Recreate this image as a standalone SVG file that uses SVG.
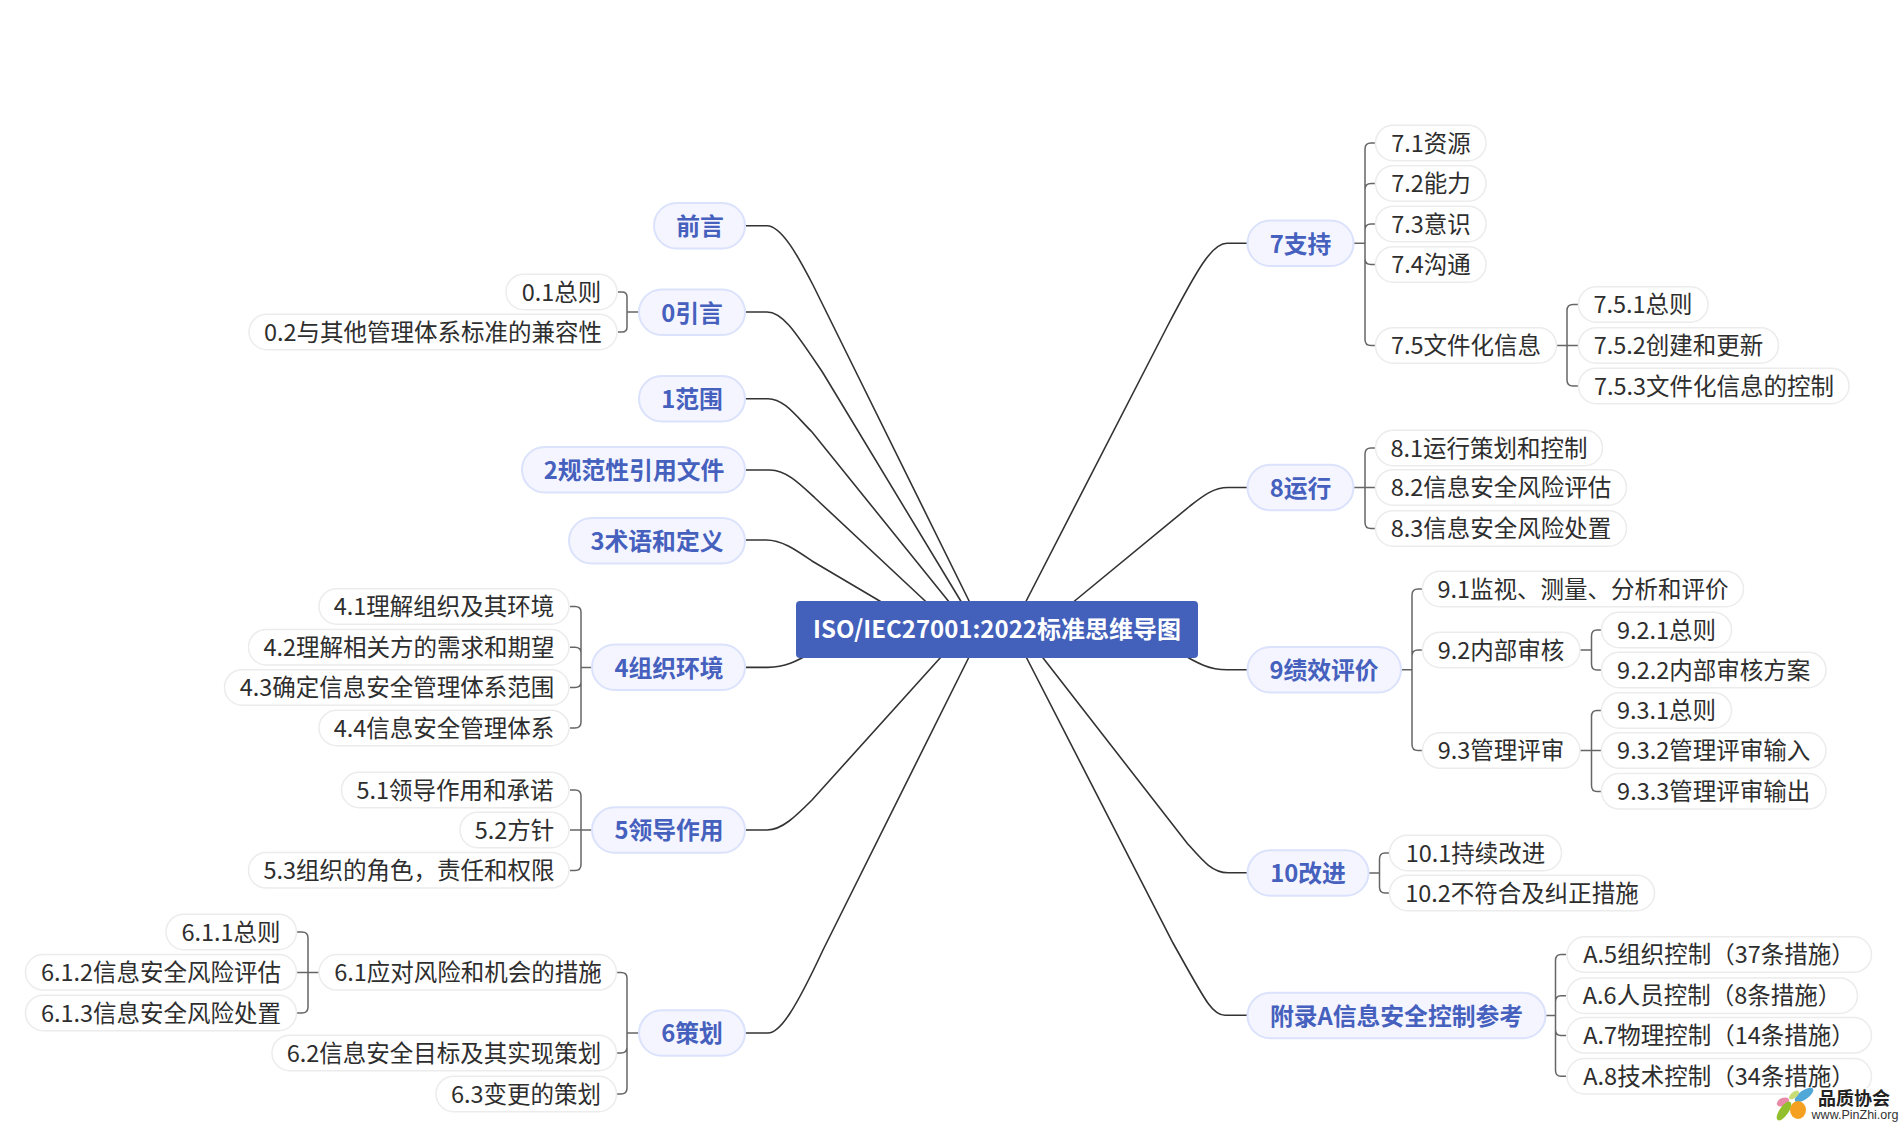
<svg xmlns="http://www.w3.org/2000/svg" width="1901" height="1126" viewBox="0 0 1901 1126">
<style>
text{font-family:"Noto Sans CJK SC","Noto Sans",sans-serif;text-anchor:middle}
.main rect{fill:#f4f5ff;stroke:#dbe2fb;stroke-width:2}
.main text{font-size:23.8px;font-weight:700;fill:#4560bd}
.sub rect{fill:#fff;stroke:#ececec;stroke-width:1.5}
.sub text{font-size:23.5px;fill:#2e2e2e}
.root rect{fill:#4360bb}
.root text{font-size:24px;font-weight:700;fill:#fff}
.trunk{fill:none;stroke:#333;stroke-width:1.6}
.branch{fill:none;stroke:#666;stroke-width:1.5}
</style>
<rect width="1901" height="1126" fill="#fff"/>
<g id="connectors">
<path class="trunk" d="M746 225.700H767C782 226 799 258 813 285L975 613"/>
<path class="trunk" d="M746 312H767C783 312 796 333 823 373L968 613"/>
<path class="trunk" d="M746 398.700H768C784 398.700 796 416 812 432L958 613"/>
<path class="trunk" d="M746 470H770C786 470 800 484 815 498L938 613"/>
<path class="trunk" d="M746 540H766C782 540 796 550 812 561L900 613"/>
<path class="trunk" d="M746 667.400H768C785 667.400 795 662 815 651"/>
<path class="trunk" d="M746 830H767C782 830 796 816 812 800L950 647"/>
<path class="trunk" d="M746 1033H768C780 1033 795 1010 823 950L975 645"/>
<path class="trunk" d="M1247 243.300H1227C1212 243.300 1198 268 1167 327L1020 613"/>
<path class="trunk" d="M1247 487.500H1228C1214 487.500 1204 495 1190 506L1060 613"/>
<path class="trunk" d="M1247 669.800H1227C1210 669.800 1200 665 1175 650"/>
<path class="trunk" d="M1247 872.700H1228C1212 872.700 1202 860 1187 843L1033 645"/>
<path class="trunk" d="M1247 1015.300H1225C1212 1015.300 1205 1000 1173 943L1020 645"/>
<path class="branch" d="M639 312H627M618 292H622Q627 292 627 297V327Q627 332 622 332H618"/>
<path class="branch" d="M592 667.400H581M570 606.500H575Q581 606.500 581 612V722Q581 728 575 728H570M570 647.200H575Q581 647.200 581 653M570 687.500H575Q581 687.500 581 682"/>
<path class="branch" d="M592 830H570M570 790H575Q581 790 581 796V864.400Q581 870.400 575 870.400H570"/>
<path class="branch" d="M639 1033H627M617 972.400H621Q627 972.400 627 978V1088Q627 1094 621 1094H617M617 1053H621Q627 1053 627 1047"/>
<path class="branch" d="M319 972.400H297M297 932H302Q308 932 308 938V1007Q308 1013 302 1013H297"/>
<path class="branch" d="M1354 243.300H1365M1375 143H1371Q1365 143 1365 149V339.500Q1365 345.500 1371 345.500H1375M1375 183.500H1371Q1365 183.500 1365 189.500M1375 224H1371Q1365 224 1365 230M1375 264.500H1371Q1365 264.500 1365 258.500"/>
<path class="branch" d="M1557 345.500H1578M1578 304.500H1573Q1567 304.500 1567 310.500V380Q1567 386 1573 386H1578"/>
<path class="branch" d="M1354 487.500H1375M1375 448H1371Q1365 448 1365 454V522.500Q1365 528.500 1371 528.500H1375"/>
<path class="branch" d="M1401 669.800H1412M1422 589H1418Q1412 589 1412 595V744.600Q1412 750.600 1418 750.600H1422M1422 650H1418Q1412 650 1412 656"/>
<path class="branch" d="M1580 650H1591.500M1601 630H1597Q1591.500 630 1591.500 636V664Q1591.500 670 1597 670H1601"/>
<path class="branch" d="M1580 750.600H1601M1601 710.500H1597Q1591.500 710.500 1591.500 716.500V785.400Q1591.500 791.400 1597 791.400H1601"/>
<path class="branch" d="M1368.500 873H1379.500M1389 853H1385Q1379.500 853 1379.500 859V887Q1379.500 893 1385 893H1389"/>
<path class="branch" d="M1545.500 1015.500H1555.500M1566 954.600H1561Q1555.500 954.600 1555.500 960.600V1070.300Q1555.500 1076.300 1561 1076.300H1566M1566 995.700H1561Q1555.500 995.700 1555.500 1001.700M1566 1035.400H1561Q1555.500 1035.400 1555.500 1029.400"/>
</g>
<g id="root" class="root"><rect x="796" y="601" width="402" height="57" rx="4"/><text x="997" y="638">ISO/IEC27001:2022标准思维导图</text></g>
<g id="n-preface" class="main"><rect x="654" y="203" width="91" height="45.500" rx="22.750"/><text x="700" y="235">前言</text></g>
<g id="n-0" class="main"><rect x="639" y="289.500" width="106" height="45.500" rx="22.750"/><text x="692" y="321.500">0引言</text></g>
<g id="n-1" class="main"><rect x="639" y="376" width="106" height="45.500" rx="22.750"/><text x="692" y="408">1范围</text></g>
<g id="n-2" class="main"><rect x="522" y="447" width="223" height="45.500" rx="22.750"/><text x="634" y="479">2规范性引用文件</text></g>
<g id="n-3" class="main"><rect x="569" y="518" width="176" height="45.500" rx="22.750"/><text x="657" y="550">3术语和定义</text></g>
<g id="n-4" class="main"><rect x="592" y="644.500" width="153" height="45.500" rx="22.750"/><text x="669" y="676.500">4组织环境</text></g>
<g id="n-5" class="main"><rect x="592" y="807.300" width="153" height="45.500" rx="22.750"/><text x="669" y="839">5领导作用</text></g>
<g id="n-6" class="main"><rect x="639" y="1010.300" width="106" height="45.500" rx="22.750"/><text x="692" y="1042">6策划</text></g>
<g id="n-7" class="main"><rect x="1247.500" y="220.500" width="106" height="45.500" rx="22.750"/><text x="1300.500" y="252.500">7支持</text></g>
<g id="n-8" class="main"><rect x="1247.500" y="464.700" width="106" height="45.500" rx="22.750"/><text x="1300.500" y="496.700">8运行</text></g>
<g id="n-9" class="main"><rect x="1247.500" y="647" width="153.500" height="45.500" rx="22.750"/><text x="1324" y="679">9绩效评价</text></g>
<g id="n-10" class="main"><rect x="1247.500" y="850.300" width="121" height="45.500" rx="22.750"/><text x="1308" y="882.200">10改进</text></g>
<g id="n-a" class="main"><rect x="1247.500" y="992.800" width="298" height="45.500" rx="22.750"/><text x="1396.500" y="1024.700">附录A信息安全控制参考</text></g>
<g id="n-0-1" class="sub"><rect x="506" y="274.200" width="111" height="35.500" rx="17.750"/><text x="561.500" y="300.500">0.1总则</text></g>
<g id="n-0-2" class="sub"><rect x="249" y="314.200" width="368" height="35.500" rx="17.750"/><text x="433" y="340.500">0.2与其他管理体系标准的兼容性</text></g>
<g id="n-4-1" class="sub"><rect x="319" y="588.700" width="250" height="35.500" rx="17.750"/><text x="444" y="615">4.1理解组织及其环境</text></g>
<g id="n-4-2" class="sub"><rect x="248.500" y="629.400" width="320.500" height="35.500" rx="17.750"/><text x="409" y="655.700">4.2理解相关方的需求和期望</text></g>
<g id="n-4-3" class="sub"><rect x="224.500" y="669.700" width="344.500" height="35.500" rx="17.750"/><text x="397" y="696">4.3确定信息安全管理体系范围</text></g>
<g id="n-4-4" class="sub"><rect x="319" y="710.200" width="250" height="35.500" rx="17.750"/><text x="444" y="736.500">4.4信息安全管理体系</text></g>
<g id="n-5-1" class="sub"><rect x="341.500" y="772.200" width="227.500" height="35.500" rx="17.750"/><text x="455" y="798.500">5.1领导作用和承诺</text></g>
<g id="n-5-2" class="sub"><rect x="460" y="812.200" width="109" height="35.500" rx="17.750"/><text x="514.500" y="838.500">5.2方针</text></g>
<g id="n-5-3" class="sub"><rect x="248.500" y="852.600" width="320.500" height="35.500" rx="17.750"/><text x="409" y="878.900">5.3组织的角色，责任和权限</text></g>
<g id="n-6-1" class="sub"><rect x="319" y="954.600" width="297.500" height="35.500" rx="17.750"/><text x="468" y="980.900">6.1应对风险和机会的措施</text></g>
<g id="n-6-1-1" class="sub"><rect x="166" y="914.200" width="130.500" height="35.500" rx="17.750"/><text x="231" y="940.500">6.1.1总则</text></g>
<g id="n-6-1-2" class="sub"><rect x="25.500" y="954.600" width="271" height="35.500" rx="17.750"/><text x="161" y="980.900">6.1.2信息安全风险评估</text></g>
<g id="n-6-1-3" class="sub"><rect x="25.500" y="995.200" width="271" height="35.500" rx="17.750"/><text x="161" y="1021.500">6.1.3信息安全风险处置</text></g>
<g id="n-6-2" class="sub"><rect x="272" y="1035.200" width="344.500" height="35.500" rx="17.750"/><text x="444" y="1061.500">6.2信息安全目标及其实现策划</text></g>
<g id="n-6-3" class="sub"><rect x="436" y="1076.200" width="180.500" height="35.500" rx="17.750"/><text x="526" y="1102.500">6.3变更的策划</text></g>
<g id="n-7-1" class="sub"><rect x="1375.500" y="125.200" width="110.500" height="35.500" rx="17.750"/><text x="1431" y="151.500">7.1资源</text></g>
<g id="n-7-2" class="sub"><rect x="1375.500" y="165.700" width="110.500" height="35.500" rx="17.750"/><text x="1431" y="192">7.2能力</text></g>
<g id="n-7-3" class="sub"><rect x="1375.500" y="206.200" width="110.500" height="35.500" rx="17.750"/><text x="1431" y="232.500">7.3意识</text></g>
<g id="n-7-4" class="sub"><rect x="1375.500" y="246.700" width="110.500" height="35.500" rx="17.750"/><text x="1431" y="273">7.4沟通</text></g>
<g id="n-7-5" class="sub"><rect x="1375.500" y="327.700" width="181" height="35.500" rx="17.750"/><text x="1466" y="354">7.5文件化信息</text></g>
<g id="n-7-5-1" class="sub"><rect x="1578.500" y="286.700" width="129.500" height="35.500" rx="17.750"/><text x="1643" y="313">7.5.1总则</text></g>
<g id="n-7-5-2" class="sub"><rect x="1578.500" y="327.700" width="200" height="35.500" rx="17.750"/><text x="1678.500" y="354">7.5.2创建和更新</text></g>
<g id="n-7-5-3" class="sub"><rect x="1578.500" y="368.200" width="270.500" height="35.500" rx="17.750"/><text x="1714" y="394.500">7.5.3文件化信息的控制</text></g>
<g id="n-8-1" class="sub"><rect x="1375.500" y="430.200" width="227" height="35.500" rx="17.750"/><text x="1489" y="456.500">8.1运行策划和控制</text></g>
<g id="n-8-2" class="sub"><rect x="1375.500" y="469.700" width="251" height="35.500" rx="17.750"/><text x="1501" y="496">8.2信息安全风险评估</text></g>
<g id="n-8-3" class="sub"><rect x="1375.500" y="510.700" width="251" height="35.500" rx="17.750"/><text x="1501" y="537">8.3信息安全风险处置</text></g>
<g id="n-9-1" class="sub"><rect x="1422.500" y="571.200" width="321" height="35.500" rx="17.750"/><text x="1583" y="597.500">9.1监视、测量、分析和评价</text></g>
<g id="n-9-2" class="sub"><rect x="1422.500" y="632.200" width="157.500" height="35.500" rx="17.750"/><text x="1501" y="658.500">9.2内部审核</text></g>
<g id="n-9-2-1" class="sub"><rect x="1601.500" y="612.200" width="130" height="35.500" rx="17.750"/><text x="1666.500" y="638.500">9.2.1总则</text></g>
<g id="n-9-2-2" class="sub"><rect x="1601.500" y="652.200" width="224.500" height="35.500" rx="17.750"/><text x="1713.700" y="678.500">9.2.2内部审核方案</text></g>
<g id="n-9-3" class="sub"><rect x="1422.500" y="732.800" width="157.500" height="35.500" rx="17.750"/><text x="1501" y="759.100">9.3管理评审</text></g>
<g id="n-9-3-1" class="sub"><rect x="1601.500" y="692.700" width="130" height="35.500" rx="17.750"/><text x="1666.500" y="719">9.3.1总则</text></g>
<g id="n-9-3-2" class="sub"><rect x="1601.500" y="732.800" width="224.500" height="35.500" rx="17.750"/><text x="1713.700" y="759.100">9.3.2管理评审输入</text></g>
<g id="n-9-3-3" class="sub"><rect x="1601.500" y="773.600" width="224.500" height="35.500" rx="17.750"/><text x="1713.700" y="799.900">9.3.3管理评审输出</text></g>
<g id="n-10-1" class="sub"><rect x="1389.500" y="835.200" width="172" height="35.500" rx="17.750"/><text x="1475.500" y="861.500">10.1持续改进</text></g>
<g id="n-10-2" class="sub"><rect x="1389.500" y="875.200" width="265" height="35.500" rx="17.750"/><text x="1522" y="901.500">10.2不符合及纠正措施</text></g>
<g id="n-a-5" class="sub"><rect x="1567" y="936.800" width="304.500" height="35.500" rx="17.750"/><text x="1719" y="963.100">A.5组织控制（37条措施）</text></g>
<g id="n-a-6" class="sub"><rect x="1567" y="977.900" width="290.500" height="35.500" rx="17.750"/><text x="1712" y="1004.200">A.6人员控制（8条措施）</text></g>
<g id="n-a-7" class="sub"><rect x="1567" y="1017.600" width="304.500" height="35.500" rx="17.750"/><text x="1719" y="1043.900">A.7物理控制（14条措施）</text></g>
<g id="n-a-8" class="sub"><rect x="1567" y="1058.500" width="304.500" height="35.500" rx="17.750"/><text x="1719" y="1084.800">A.8技术控制（34条措施）</text></g>
<g id="logo">
<rect x="1788" y="1088" width="113" height="38" fill="#fff" opacity="0.92"/>
<ellipse cx="1804" cy="1095" rx="11" ry="4.500" fill="#4fa8d8" transform="rotate(-35 1804 1095)"/>
<ellipse cx="1794" cy="1095" rx="6" ry="3" fill="#c8dc78" transform="rotate(-40 1794 1095)"/>
<ellipse cx="1783" cy="1102" rx="6.500" ry="4" fill="#e88aa8" transform="rotate(-25 1783 1102)"/>
<ellipse cx="1784" cy="1111" rx="11" ry="4.500" fill="#92c02c" transform="rotate(-55 1784 1111)"/>
<ellipse cx="1798" cy="1110" rx="8" ry="9" fill="#f5a020"/>
<text x="1854" y="1105" style="font-family:'Liberation Serif','Noto Sans CJK SC',serif;font-size:18px;font-weight:700;fill:#222">品质协会</text>
<text x="1855" y="1119" style="font-family:'Liberation Sans',sans-serif;font-size:12.500px;fill:#333">www.PinZhi.org</text>
</g>
</svg>
